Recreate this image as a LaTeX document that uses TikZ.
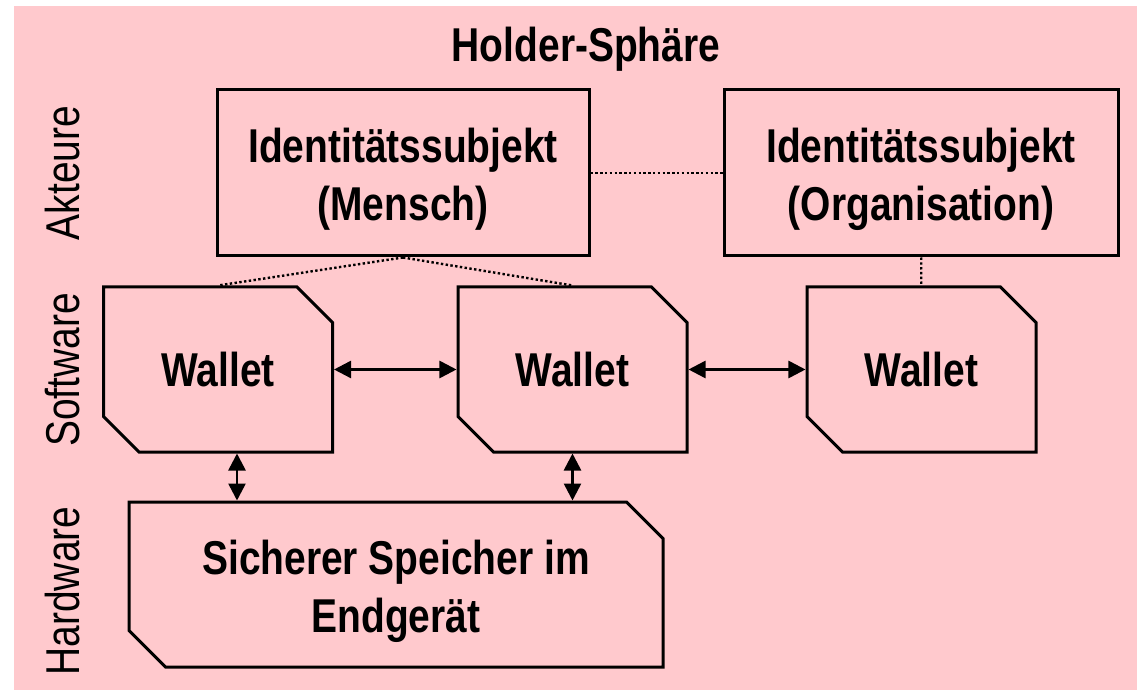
\documentclass[tikz,border=0pt]{standalone}
\usepackage{fontspec}
\setmainfont{Liberation Sans}
\newfontfamily\narrowSans[FakeStretch=0.82]{Liberation Sans}
\usepackage{tikz}
\usetikzlibrary{positioning, shapes.misc, arrows.meta}
\definecolor{sphereColor}{RGB}{255,201,205}
\tikzstyle{sphere} = [x = .5pt, y = -.5pt]
\tikzstyle{boxText} = [font=\narrowSans\bfseries\fontsize{23.75}{29}\selectfont, align=center, inner sep=0pt]
\tikzstyle{actorStyle} = [boxText, draw, line width=1.5pt, minimum width=186pt, minimum height=83pt, text height=52.5pt]
\tikzstyle{walletStyle} = [boxText, draw, line width=1.5pt, chamfered rectangle, chamfered rectangle corners={north east, south west}, chamfered rectangle xsep=9.3pt, chamfered rectangle ysep=9pt, minimum width=114.5pt, minimum height=82.5pt]
\tikzstyle{layerText} = [font=\narrowSans\fontsize{23.75}{29}\selectfont, rotate=90, anchor=base, inner sep=0pt]
\tikzstyle{linkLine} = [line width=1.2pt, dash pattern=on 1.2pt off 1.2pt]
\tikzstyle{dataLine} = [line width=1.3pt, {Triangle[length=8.5pt, width=8.5pt]}-{Triangle[length=8.5pt, width=8.5pt]}]

\begin{document}
\begin{tikzpicture}[sphere]
  \useasboundingbox (0,0) rectangle (1137,690);
  \fill[sphereColor] (14,6) rectangle (1137,690);

  \node[boxText, anchor=base] (title) at (586,62) {Holder-Sphäre};
  \node[layerText] (actors) at (79,173) {Akteure};
  \node[layerText] (software) at (79,370) {Software};
  \node[layerText] (hardware) at (79,591) {Hardware};

  \node[actorStyle] (human) at (403,173) {Identitätssubjekt\\(Mensch)};
  \node[actorStyle, minimum width=197pt] (organisation) at (921,173) {Identitätssubjekt\\(Organisation)};
  \node[walletStyle] (walletA) at (218,369.5) {Wallet};
  \node[walletStyle] (walletB) at (572.5,369.5) {Wallet};
  \node[walletStyle] (walletC) at (921.5,369.5) {Wallet};
  \node[walletStyle, minimum width=267pt, text height=53.5pt] (storage) at (396,584.5) {Sicherer Speicher im\\Endgerät};

  \draw[linkLine] (human) -- (organisation);
  \draw[linkLine] (human.south) -- (walletA.north);
  \draw[linkLine] (human.south) -- (walletB.north);
  \draw[linkLine] (organisation) -- (walletC);
  \draw[dataLine] (walletA) -- (walletB);
  \draw[dataLine] (walletB) -- (walletC);
  \draw[dataLine] ([xshift=9.5pt]walletA.south) -- ([xshift=9.5pt]walletA.south |- storage.north);
  \draw[dataLine] (walletB.south) -- (walletB.south |- storage.north);
\end{tikzpicture}
\end{document}
